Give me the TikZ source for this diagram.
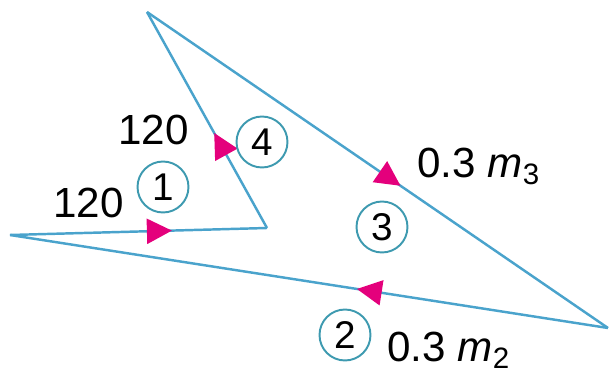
\documentclass[tikz,border=0pt]{standalone}
\usepackage{fontspec}
\setmainfont{Liberation Sans}
\usetikzlibrary{arrows.meta,decorations.markings}
\definecolor{linec}{HTML}{4AA3CC}
\definecolor{ringc}{HTML}{3E9AB0}
\definecolor{arrc}{HTML}{E4007C}
\tikzset{
  pipe/.style={draw=linec,line width=1.4pt},
  flow/.style={postaction={decorate},decoration={markings,
    mark=at position #1 with {\arrow{Triangle[length=5mm,width=5mm,color=arrc]}}}},
  num/.style={circle,draw=ringc,line width=1.1pt,minimum size=1.02cm,inner sep=0pt,font=\fontsize{22}{24}\selectfont},
  lab/.style={font=\fontsize{24}{28}\selectfont,inner sep=0pt,anchor=base west}
}
\begin{document}
\begin{tikzpicture}[x=0.02cm,y=-0.02cm]
\useasboundingbox (0,0) rectangle (610,375);
% corners of the loop
\coordinate (L) at (10,235);
\coordinate (M) at (267,228);
\coordinate (T) at (147,12);
\coordinate (R) at (608,328);
\draw[pipe,flow=0.63] (L)--(M);
\draw[pipe,flow=0.44] (M)--(T);
\draw[pipe,flow=0.55] (T)--(R);
\draw[pipe,flow=0.42] (R)--(L);
% stream numbers
\node[num] (s1) at (163,187) {1};
\node[num] (s4) at (262,142) {4};
\node[num] (s3) at (382,227) {3};
\node[num] (s2) at (345,335) {2};
% flow values
\node[lab] (f4) at (118,145) {120};
\node[lab] (f1) at (53,218) {120};
\node[lab] (f3) at (417,178) {0.3 \textit{m}\textsubscript{3}};
\node[lab] (f2) at (387,362) {0.3 \textit{m}\textsubscript{2}};
\end{tikzpicture}
\end{document}
